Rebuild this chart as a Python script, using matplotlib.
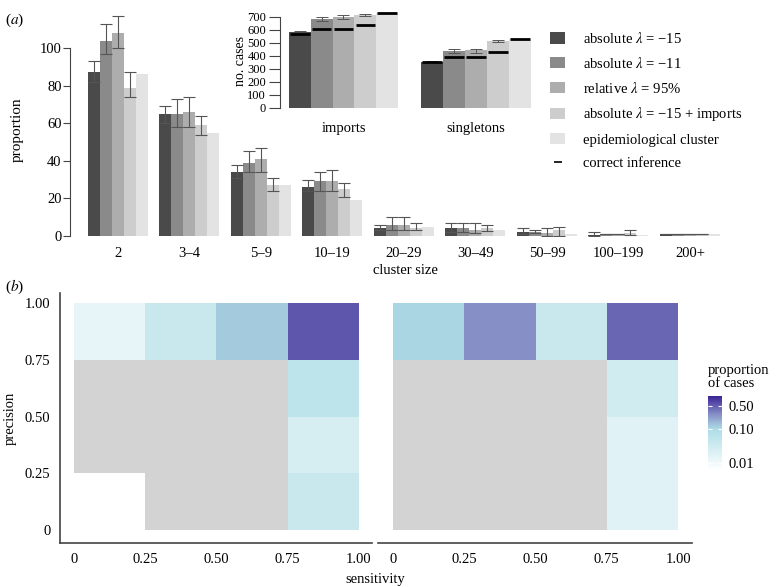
import matplotlib
matplotlib.use('Agg')
import matplotlib.pyplot as plt
import numpy as np
from matplotlib.colors import LinearSegmentedColormap, LogNorm
from matplotlib.patches import Patch
from matplotlib.lines import Line2D

plt.rcParams['font.family'] = ['Liberation Serif', 'DejaVu Serif']
plt.rcParams['mathtext.fontset'] = 'stix'

W, H = 778, 587

# ---- data, panel (a) ----
series = [r'absolute $\lambda$ = −15', r'absolute $\lambda$ = −11',
          r'relative $\lambda$ = 95%', r'absolute $\lambda$ = −15 + imports',
          'epidemiological cluster']
colors = ['#4a4a4a', '#8a8a8a', '#adadad', '#cdcdcd', '#e3e3e3']

sizes = ['2', '3–4', '5–9', '10–19', '20–29', '30–49', '50–99', '100–199', '200+']
abs15 = [87, 65, 34, 26, 4, 4, 2, 0.5, 1]
abs15_lo = [82, 60, 31, 24, 3, 2, 1, 0, 0.9]
abs15_hi = [93, 69, 38, 30, 6, 7, 4, 2, 1.1]
abs11 = [104, 65, 39, 29, 6, 4, 2, 1, 1]
abs11_lo = [97, 58, 34, 24, 3, 2, 1.5, 0.8, 0.9]
abs11_hi = [113, 73, 45, 34, 10, 7, 3, 1.2, 1.1]
rel95 = [108, 66, 41, 29, 6, 3, 1.5, 1, 1]
rel95_lo = [100, 58, 34, 24, 3, 1.5, 0, 0.8, 0.9]
rel95_hi = [117, 74, 47, 35, 10, 7, 4, 1.2, 1.1]
abs15imp = [79, 59, 27, 25, 4, 4, 3, 1.5, 1]
abs15imp_lo = [74, 54, 24, 21, 3, 2.5, 0, 0.4, 0.9]
abs15imp_hi = [87, 64, 31, 28, 7, 6, 5, 3, 1.1]
epi = [86, 55, 27, 19, 5, 3, 1, 0.7, 1]

inset_cats = ['imports', 'singletons']
inset_vals = [[585, 356], [685, 438], [698, 443], [715, 515], [728, 531]]
inset_lo = [[580, 351], [672, 425], [685, 425], [710, 505], None]
inset_hi = [[592, 360], [702, 451], [715, 456], [723, 525], None]
inset_correct = [[572, 351], [610, 392], [610, 392], [641, 428], [728, 531]]

# ---- data, panel (b) ----
bins = [0, 0.25, 0.50, 0.75, 1.00]
nan = np.nan
# rows: precision low -> high, columns: sensitivity low -> high
left_props = [[0.004, nan, nan, 0.04],
              [nan, nan, nan, 0.025],
              [nan, nan, nan, 0.06],
              [0.014, 0.04, 0.13, 0.55]]
right_props = [[nan, nan, nan, 0.018],
               [nan, nan, nan, 0.018],
               [nan, nan, nan, 0.03],
               [0.11, 0.28, 0.04, 0.45]]
cbar_ticks = [0.01, 0.10, 0.50]


def px(l, t, r, b):
    return [l / W, 1 - b / H, (r - l) / W, (b - t) / H]


fig = plt.figure(figsize=(W / 100, H / 100), dpi=100)

# ---- main bar chart ----
ax = fig.add_axes(px(70, 5, 745, 236))
ax.patch.set_visible(False)
vals = [abs15, abs11, rel95, abs15imp, epi]
los = [abs15_lo, abs11_lo, rel95_lo, abs15imp_lo, None]
his = [abs15_hi, abs11_hi, rel95_hi, abs15imp_hi, None]
x = np.arange(len(sizes))
w = 0.168
for j in range(5):
    xs = x + (j - 2) * w
    ax.bar(xs, vals[j], width=w, color=colors[j], linewidth=0)
    if los[j] is not None:
        v = np.array(vals[j])
        err = [v - np.array(los[j]), np.array(his[j]) - v]
        ax.errorbar(xs, v, yerr=err, fmt='none', ecolor='#555555',
                    elinewidth=0.8, capsize=4.2, capthick=0.8)
ax.set_xlim(-0.671, 8.77)
ax.set_ylim(0, 122.9)
ax.set_xticks(x)
ax.set_xticklabels(sizes, fontsize=10.5)
ax.set_yticks([0, 20, 40, 60, 80, 100])
ax.tick_params(axis='x', length=0, pad=8)
ax.tick_params(axis='y', length=5, pad=1, labelsize=10.5, color='#444444')
for s in ['top', 'right', 'bottom']:
    ax.spines[s].set_visible(False)
ax.spines['left'].set_bounds(0, 100)
ax.spines['left'].set_color('#444444')

fig.text(17 / W, 1 - 130 / H, 'proportion', rotation=90, ha='center', va='center', fontsize=11)
fig.text(405 / W, 1 - 270 / H, 'cluster size', ha='center', va='center', fontsize=10.5)
fig.text(15 / W, 1 - 20 / H, '($a$)', ha='center', va='center', fontsize=11)

# ---- inset ----
ins = fig.add_axes(px(280, 5, 540, 108))
ix = np.arange(len(inset_cats))
iw = 0.165
for j in range(5):
    xs = ix + (j - 2) * iw
    v = np.array(inset_vals[j])
    ins.bar(xs, v, width=iw, color=colors[j], linewidth=0)
    if inset_lo[j] is not None:
        err = [v - np.array(inset_lo[j]), np.array(inset_hi[j]) - v]
        ins.errorbar(xs, v, yerr=err, fmt='none', ecolor='#555555',
                     elinewidth=0.7, capsize=4, capthick=0.7)
    ins.hlines(inset_correct[j], xs - iw * 0.45, xs + iw * 0.45, color='black', lw=2)
ins.set_xlim(-0.479, 1.483)
ins.set_ylim(0, 792)
ins.set_xticks(ix)
ins.set_xticklabels(inset_cats, fontsize=10.5)
ins.set_yticks(range(0, 701, 100))
ins.tick_params(axis='x', length=0, pad=10)
ins.tick_params(axis='y', length=8, pad=2, labelsize=9, color='#444444')
for s in ['top', 'right', 'bottom']:
    ins.spines[s].set_visible(False)
ins.spines['left'].set_bounds(0, 700)
ins.spines['left'].set_color('#444444')
fig.text(240 / W, 1 - 61 / H, 'no. cases', rotation=90, ha='center', va='center', fontsize=10)

# ---- legend ----
handles = [Patch(facecolor=c, edgecolor='none') for c in colors]
handles.append(Line2D([], [], color='black', marker='_', markersize=6,
                      markeredgewidth=1.2, linestyle='none'))
labels = series + ['correct inference']
fig.legend(handles, labels, loc='upper left', bbox_to_anchor=(550 / W, 1 - 31 / H),
           frameon=False, fontsize=10.5, borderpad=0, borderaxespad=0,
           handlelength=1.05, handleheight=0.8, handletextpad=1.2, labelspacing=0.67)

# ---- heatmaps ----
cmap = LinearSegmentedColormap.from_list(
    'prop', [(0, '#ffffff'), (0.55, '#aedde6'), (0.75, '#8790c7'), (1, '#3b2496')])
cmap.set_bad('#d3d3d3')
norm = LogNorm(vmin=0.006, vmax=1.0)

axl = fig.add_axes(px(60, 293, 372, 543))
axr = fig.add_axes(px(378, 293, 692, 543))
for a, d in [(axl, left_props), (axr, right_props)]:
    m = a.pcolormesh(bins, bins, np.ma.masked_invalid(np.array(d)), cmap=cmap, norm=norm)
    a.set_xticks(bins)
    a.set_xticklabels(['0', '0.25', '0.50', '0.75', '1.00'])
    a.set_yticks(bins)
    a.set_yticklabels(['0', '0.25', '0.50', '0.75', '1.00'])
    a.tick_params(length=0, pad=7, labelsize=10.5)
    a.spines['top'].set_visible(False)
    a.spines['right'].set_visible(False)
    a.spines['bottom'].set_color('#444444')
    a.spines['left'].set_color('#444444')
    a.spines['bottom'].set_linewidth(1.2)
    a.spines['left'].set_linewidth(1.2)
axl.set_xlim(-0.049, 1.046)
axl.set_ylim(-0.057, 1.044)
axr.set_xlim(-0.053, 1.049)
axr.set_ylim(-0.057, 1.044)
axr.spines['left'].set_visible(False)
axr.tick_params(axis='y', left=False, labelleft=False)

fig.text(10 / W, 1 - 418 / H, 'precision', rotation=90, ha='center', va='center', fontsize=10.5)
fig.text(375 / W, 1 - 579 / H, 'sensitivity', ha='center', va='center', fontsize=10.5)
fig.text(15 / W, 1 - 287 / H, '($b$)', ha='center', va='center', fontsize=11)

cax = fig.add_axes(px(708, 396, 722, 470))
cb = fig.colorbar(m, cax=cax)
cb.outline.set_visible(False)
cb.set_ticks(cbar_ticks)
cb.set_ticklabels(['0.01', '0.10', '0.50'])
cb.minorticks_off()
cax.tick_params(length=3, color='white', direction='in', labelsize=10.5, pad=5,
                left=True, right=True, labelleft=False)
fig.text(708 / W, 1 - 377 / H, 'proportion\nof cases', ha='left', va='center',
         fontsize=10.5, linespacing=1.0)

fig.savefig('out.png', dpi=100)
